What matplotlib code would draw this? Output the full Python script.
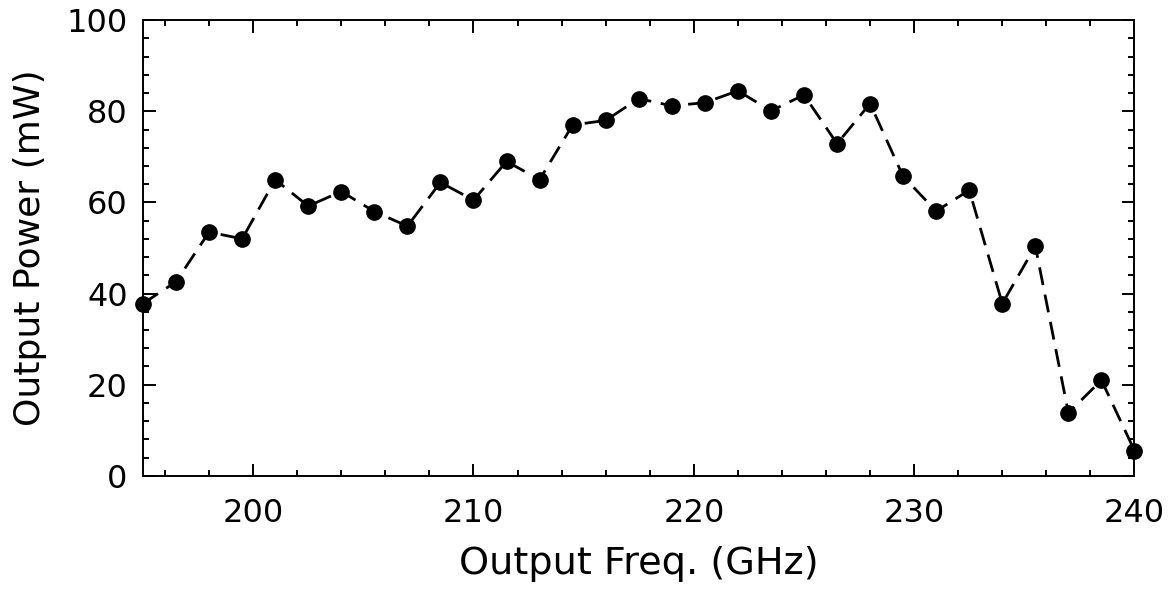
import numpy as np
import matplotlib
matplotlib.use("Agg")
import matplotlib.pyplot as plt
from matplotlib.ticker import MultipleLocator

freq = np.arange(195, 240.1, 1.5)
power = [37.8, 42.6, 53.5, 52.0, 65.0, 59.2, 62.4, 58.0, 54.8, 64.4,
         60.5, 69.0, 65.0, 77.0, 78.0, 82.8, 81.2, 81.9, 84.5, 80.1,
         83.6, 72.9, 81.7, 65.7, 58.1, 62.7, 37.8, 50.4, 13.8, 21.0, 5.5]

plt.rcParams['font.family'] = ['DejaVu Sans']

fig = plt.figure(figsize=(11.72, 5.94), dpi=100)
ax = fig.add_axes([0.122, 0.199, 0.846, 0.767])

ax.plot(freq, power, color='black', linestyle=(0, (6.5, 3.5)), linewidth=2.0,
        marker='o', markersize=11, clip_on=False)

ax.set_xlim(195, 240)
ax.set_ylim(0, 100)
ax.xaxis.set_major_locator(MultipleLocator(10))
ax.xaxis.set_minor_locator(MultipleLocator(2))
ax.yaxis.set_major_locator(MultipleLocator(20))
ax.yaxis.set_minor_locator(MultipleLocator(4))
ax.tick_params(which='both', direction='in', top=True, right=True,
               labelsize=23, width=1.4)
ax.tick_params(axis='x', pad=16)
ax.tick_params(axis='y', pad=11)
ax.tick_params(which='major', length=9)
ax.tick_params(which='minor', length=4.5)
for s in ax.spines.values():
    s.set_linewidth(1.4)

ax.set_xlabel('Output Freq. (GHz)', fontsize=27.5, labelpad=12)
ax.set_ylabel('Output Power (mW)', fontsize=26, labelpad=14)

fig.savefig('out.png', dpi=100)
